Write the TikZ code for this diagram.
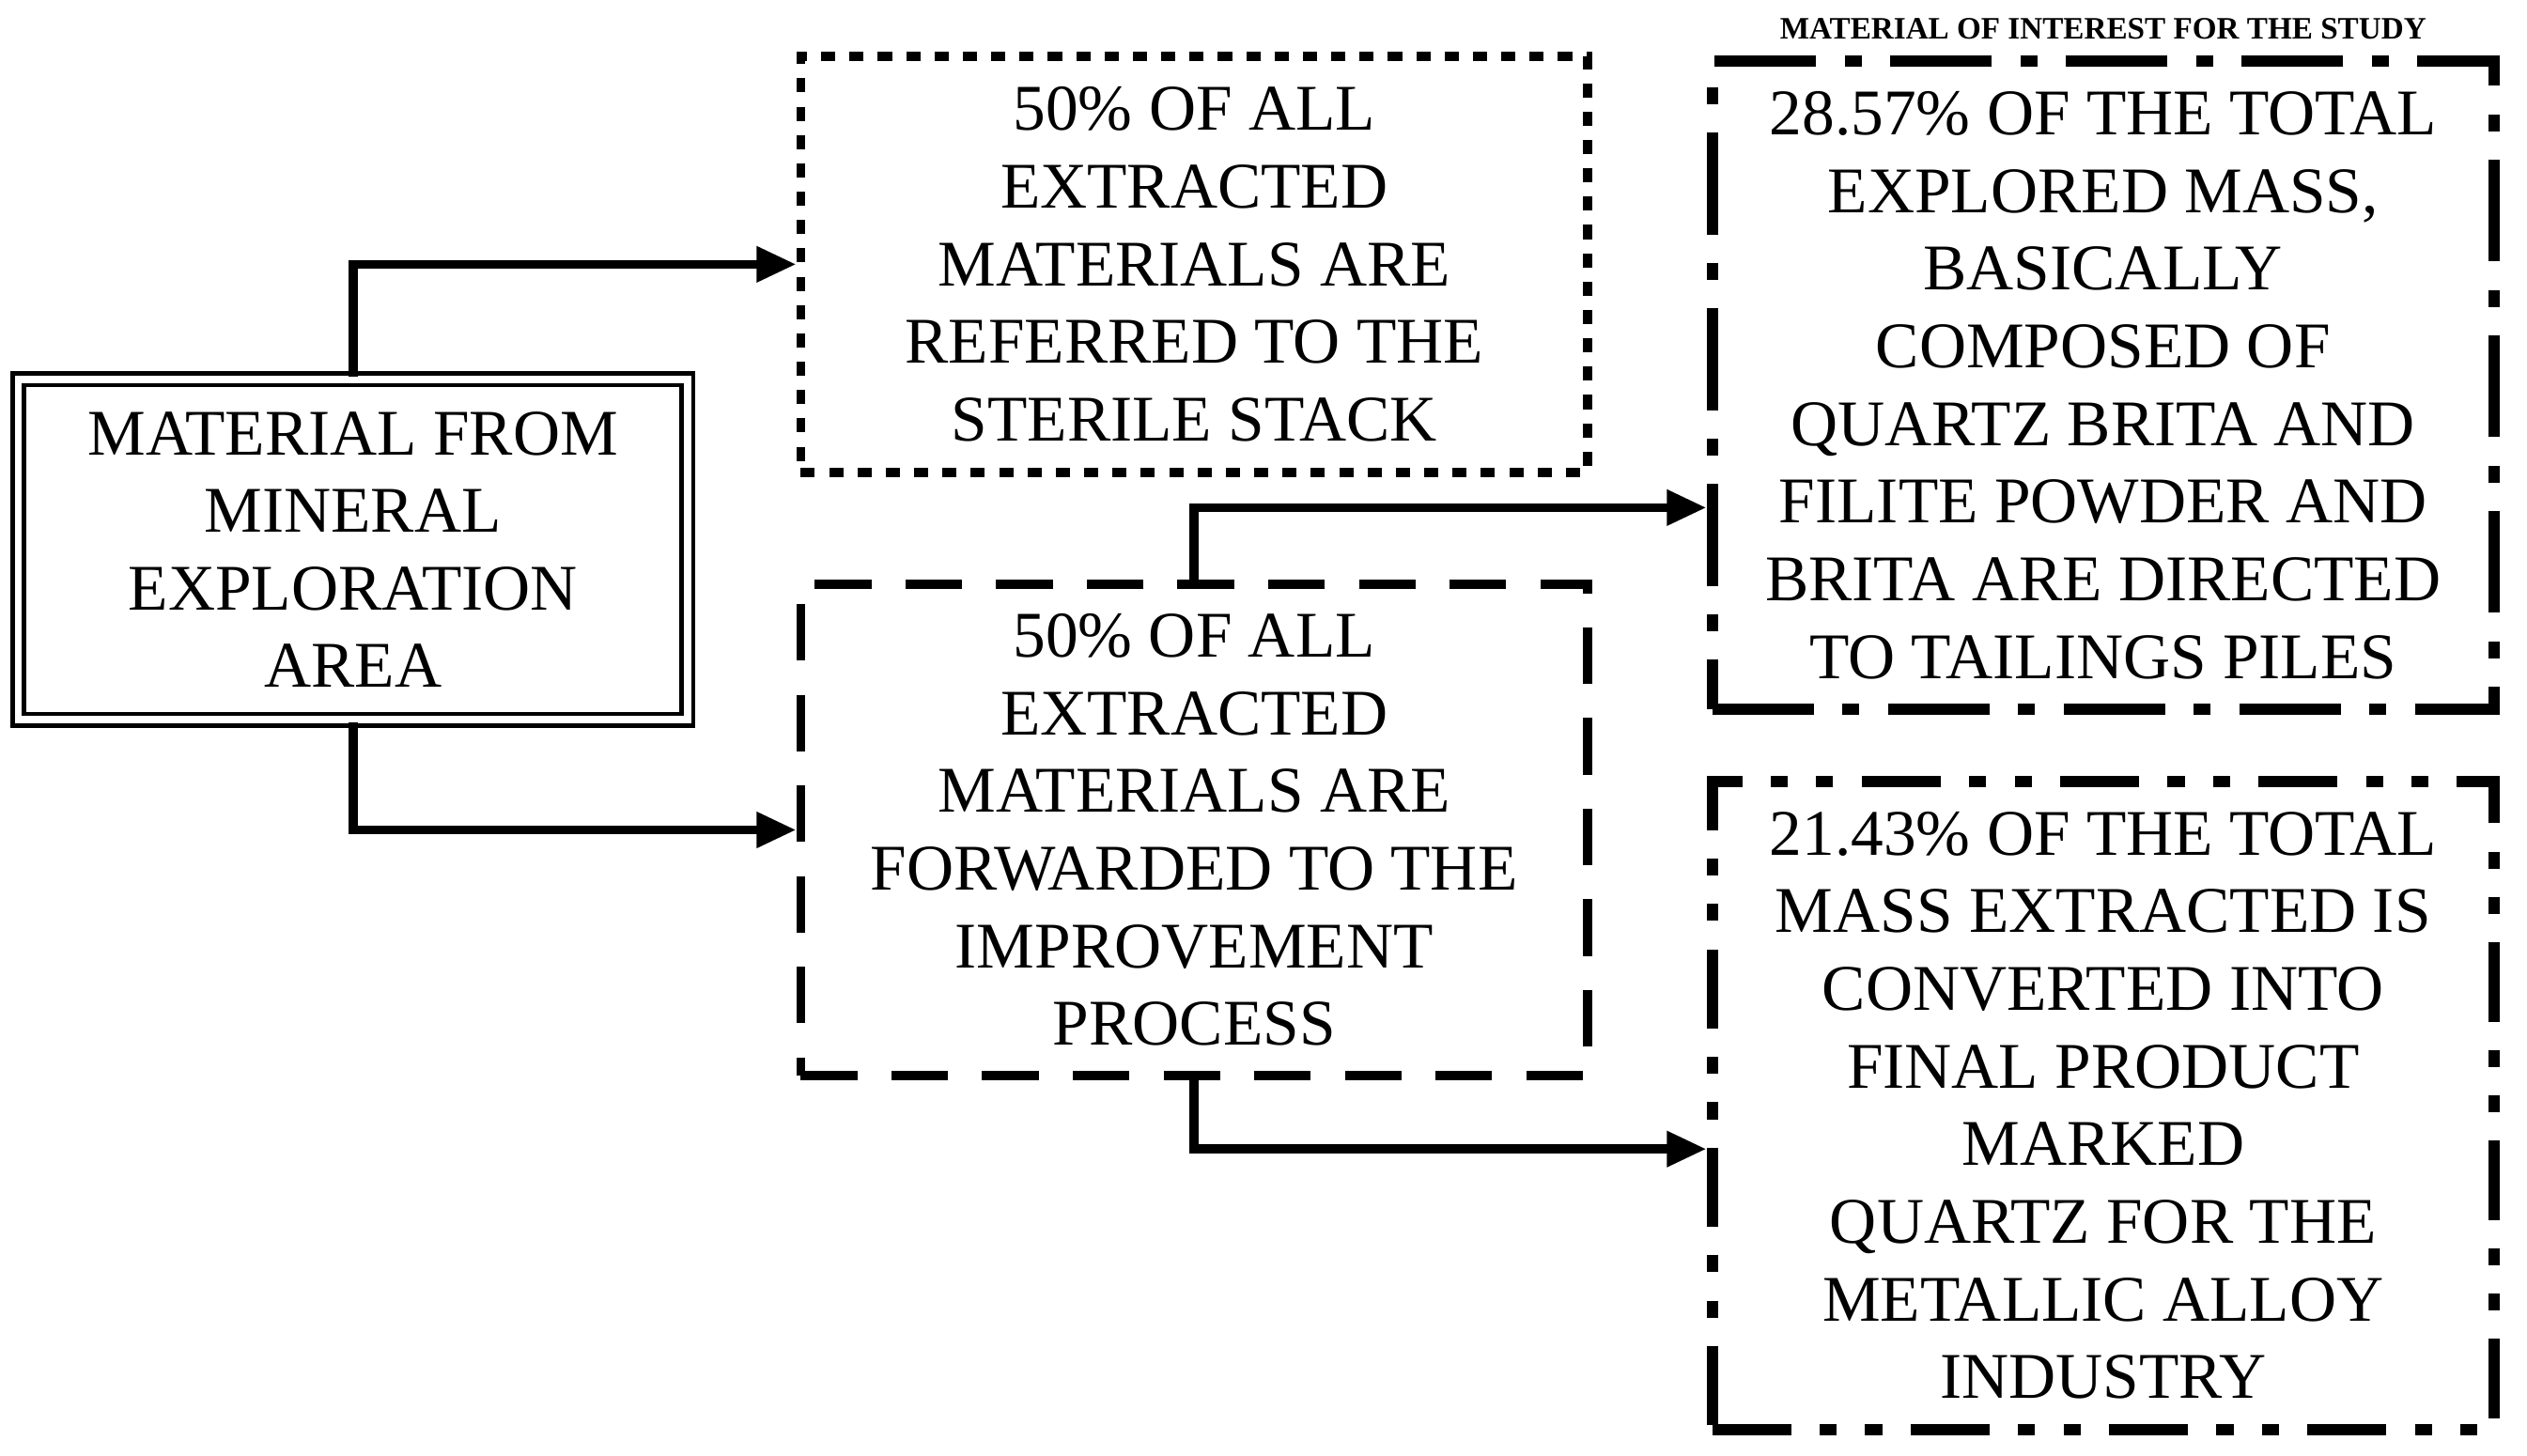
\documentclass[tikz,border=0pt]{standalone}
\usepackage{fontspec}
\setmainfont{Liberation Serif}
\usetikzlibrary{arrows.meta}
\begin{document}
\begin{tikzpicture}[x=0.01cm,y=-0.01cm,
 box/.style={draw,line width=1.6pt,minimum width=#1,inner sep=0pt,align=center,font=\fontsize{11.5}{13.7}\selectfont},
 arr/.style={line width=1.6pt,-{Triangle[length=7pt,width=6pt]}}]
\useasboundingbox (0,0) rectangle (1568,903);
\node[box=4.15cm,double,double distance=1.2pt,minimum height=2.11cm,line width=0.8pt] (a) at (219,341) {MATERIAL FROM\\MINERAL\\EXPLORATION\\AREA};
\node[box=4.88cm,minimum height=2.58cm,dash pattern=on 2.5pt off 2.5pt] (b) at (741,164) {50\% OF ALL\\EXTRACTED\\MATERIALS ARE\\REFERRED TO THE\\STERILE STACK};
\node[box=4.88cm,minimum height=3.05cm,dash pattern=on 10pt off 6pt] (c) at (741,515) {50\% OF ALL\\EXTRACTED\\MATERIALS ARE\\FORWARDED TO THE\\IMPROVEMENT\\PROCESS};
\node[box=4.85cm,minimum height=4.02cm,line width=2pt,dash pattern=on 18pt off 5pt on 3pt off 5pt] (d) at (1305,239) {28.57\% OF THE TOTAL\\EXPLORED MASS,\\BASICALLY\\COMPOSED OF\\QUARTZ BRITA AND\\FILITE POWDER AND\\BRITA ARE DIRECTED\\TO TAILINGS PILES};
\node[box=4.85cm,minimum height=4.02cm,line width=2pt,dash pattern=on 14pt off 5pt on 3pt off 5pt on 3pt off 5pt] (e) at (1305,686) {21.43\% OF THE TOTAL\\MASS EXTRACTED IS\\CONVERTED INTO\\FINAL PRODUCT\\MARKED\\QUARTZ FOR THE\\METALLIC ALLOY\\INDUSTRY};
\node[font=\bfseries\fontsize{5.5}{6}\selectfont] (t) at (1305,18) {MATERIAL OF INTEREST FOR THE STUDY};
\draw[arr] (a.north) |- (b.west);
\draw[arr] (a.south) |- (c.west);
\draw[arr] (c.north) |- (d.west |- 0,315);
\draw[arr] (c.south) |- (e.west |- 0,713);
\end{tikzpicture}
\end{document}
